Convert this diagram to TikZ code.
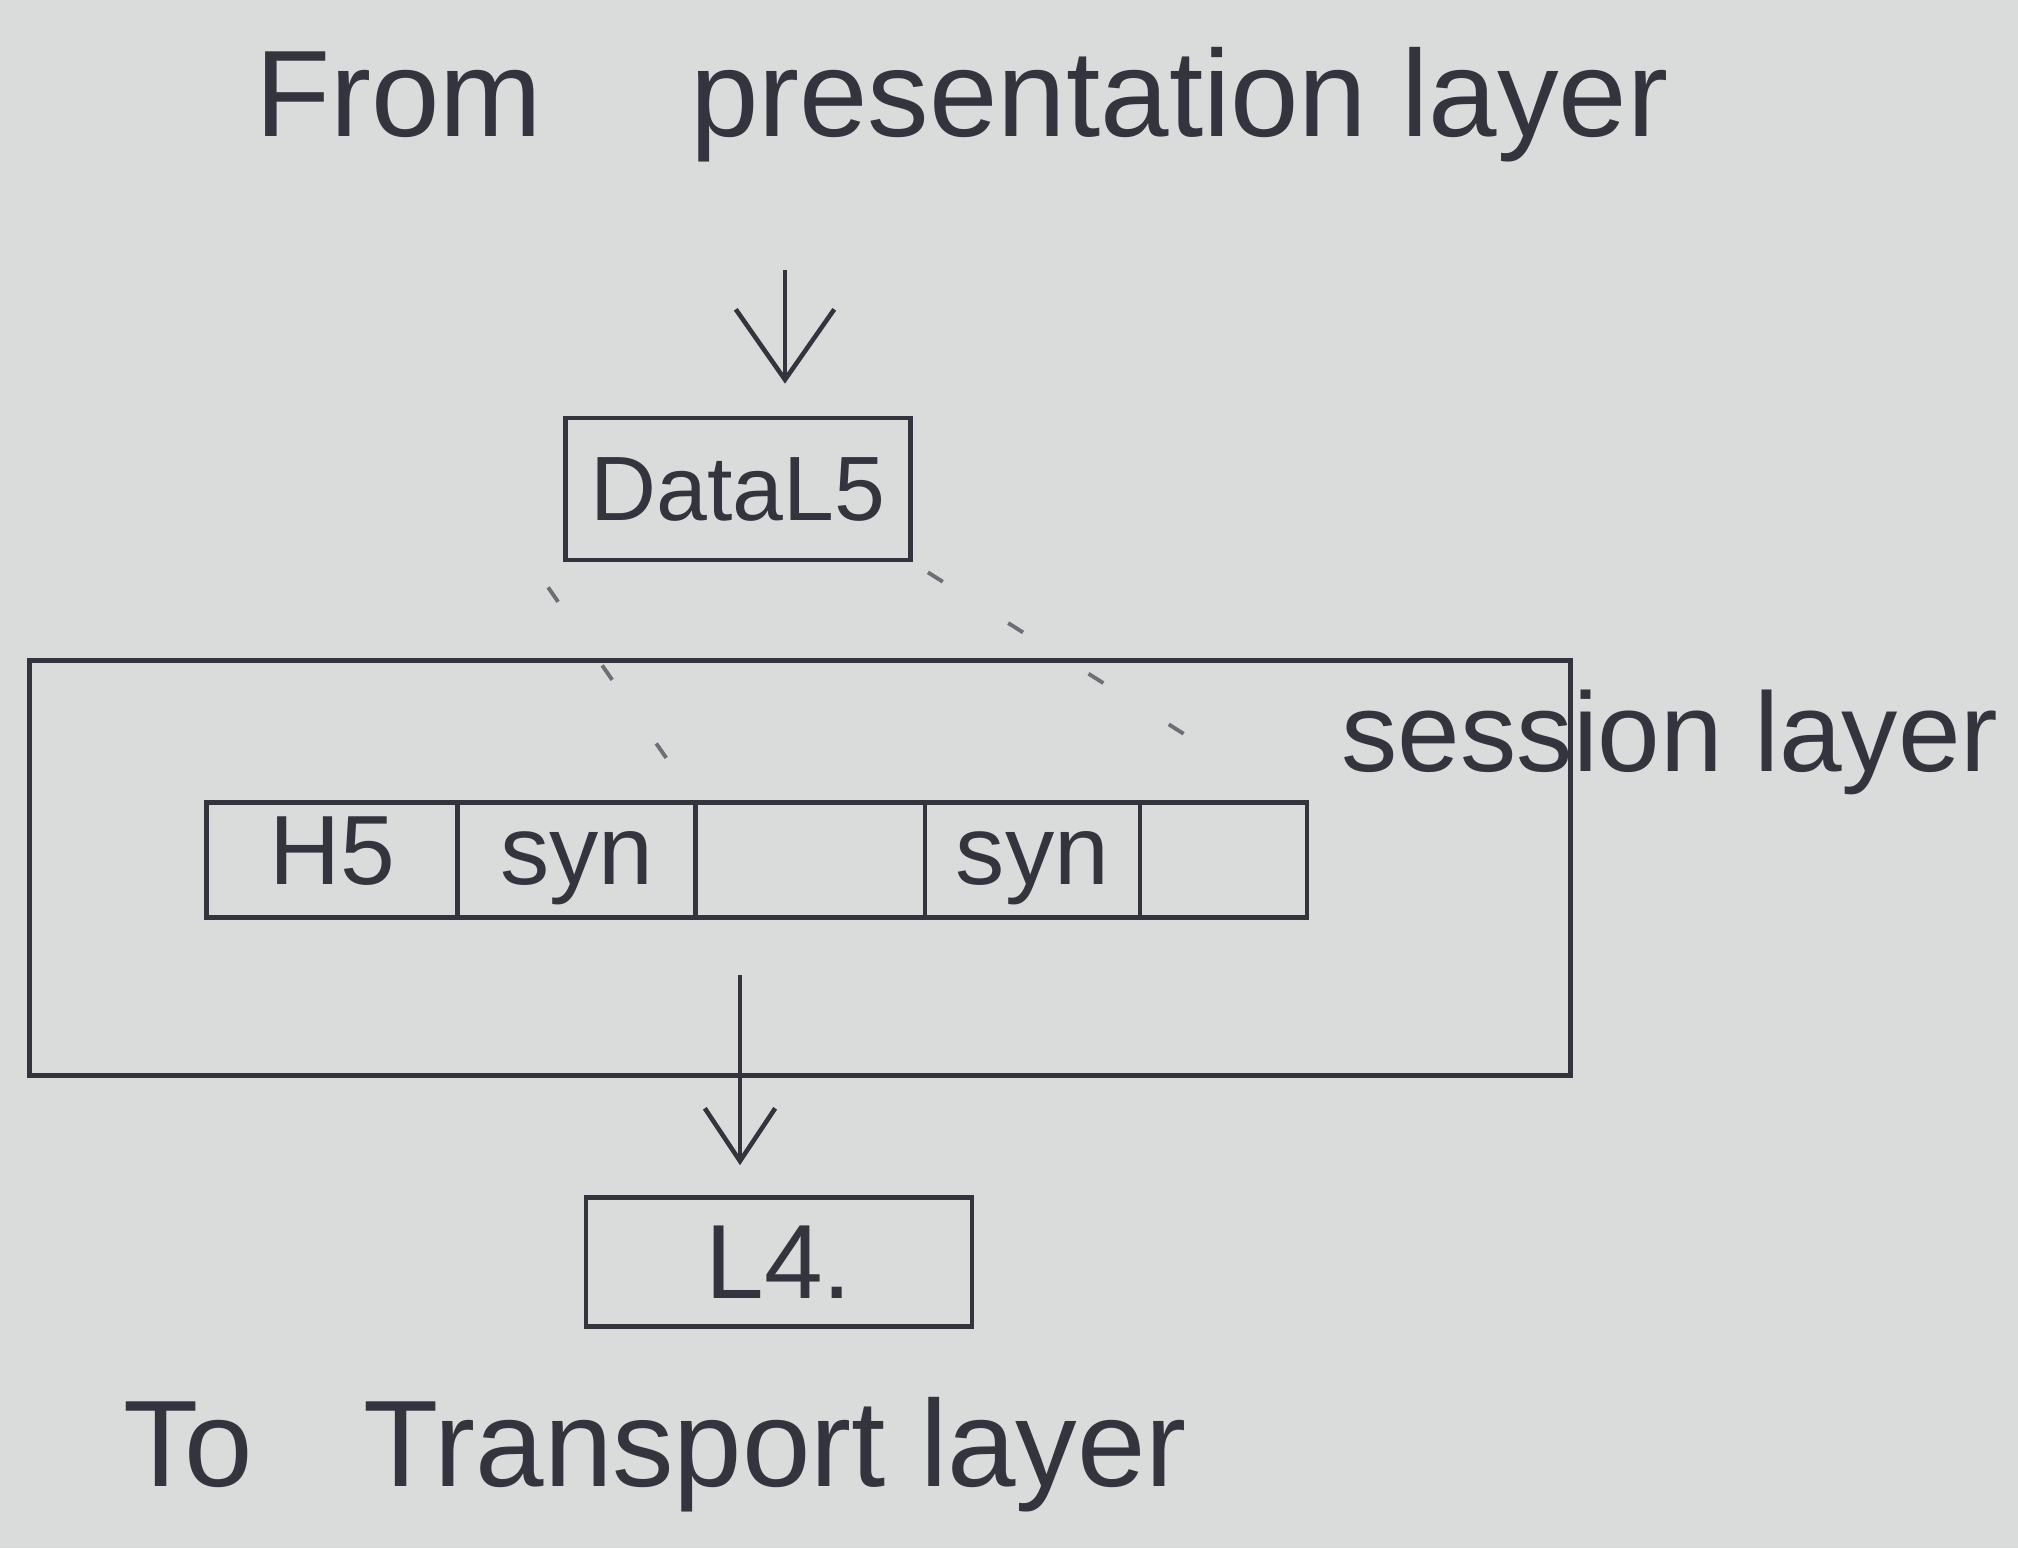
\documentclass[tikz,border=0pt]{standalone}
\usepackage{fontspec}
\setmainfont{Liberation Sans}
\usetikzlibrary{arrows.meta}
\definecolor{paper}{RGB}{218,220,219}
\definecolor{ink}{RGB}{52,52,62}
\definecolor{faint}{RGB}{110,110,118}
\tikzset{
  box/.style={draw=ink, line width=1.3pt, inner sep=0pt},
  cell/.style={box, outer sep=0pt, minimum height=1.15cm, text height=20pt, text depth=6pt},
  lbl/.style={text=ink, inner sep=0pt},
  flow/.style={draw=ink, line width=1.3pt},
  proj/.style={draw=faint, line width=1.1pt, dash pattern=on 5pt off 22pt}
}
\begin{document}
\begin{tikzpicture}[x=0.01cm, y=-0.01cm]
\fill[paper] (0,0) rectangle (2018,1548);
\useasboundingbox (0,0) rectangle (2018,1548);

% title
\node[lbl, font=\fontsize{35}{40}\selectfont] (top) at (962,105) {From\hspace{1.2em}presentation layer};

% Data L5 box
\node[box, minimum width=3.45cm, minimum height=1.42cm, font=\fontsize{26}{32}\selectfont, text=ink] (data) at (738,489) {DataL5};
\coordinate (arrtop) at (785,270);
\draw[flow, -{Straight Barb[length=20pt,width=28pt,line width=1.3pt]}] (arrtop) -- ([yshift=0.32cm]data.north -| arrtop);

% session layer box
\node[box, minimum width=15.4cm, minimum height=4.15cm] (session) at (800,868) {};
\node[lbl, font=\fontsize{32}{38}\selectfont] (sessionlbl) at (1670,742) {session layer};

% strip of cells
\node[cell, minimum width=2.51cm, font=\fontsize{28}{34}\selectfont, text=ink] (h5) at (332,860) {H5};
\node[cell, minimum width=2.38cm, anchor=west, font=\fontsize{28}{34}\selectfont, text=ink] (syn1) at (h5.east) {syn};
\node[cell, minimum width=2.29cm, anchor=west] (gap) at (syn1.east) {};
\node[cell, minimum width=2.15cm, anchor=west, font=\fontsize{28}{34}\selectfont, text=ink] (syn2) at (gap.east) {syn};
\node[cell, minimum width=1.67cm, anchor=west] (tail) at (syn2.east) {};

% projection lines
\coordinate (pl) at (676,772);
\coordinate (pr) at (1203,746);
\draw[proj] (data.south west) ++(-15,25) -- (pl);
\draw[proj] (data.south east) ++(15,10) -- (pr);

% L4 box
\node[box, minimum width=3.86cm, minimum height=1.29cm, font=\fontsize{30}{36}\selectfont, text=ink] (l4) at (779,1262) {L4.};
\coordinate (arrlow) at (740,975);
\draw[flow, -{Straight Barb[length=15pt,width=20pt,line width=1.3pt]}] (arrlow) -- ([yshift=0.3cm]l4.north -| arrlow);

% bottom text
\node[lbl, font=\fontsize{35}{40}\selectfont] (bottom) at (655,1455) {To\hspace{0.9em}Transport layer};
\end{tikzpicture}
\end{document}
